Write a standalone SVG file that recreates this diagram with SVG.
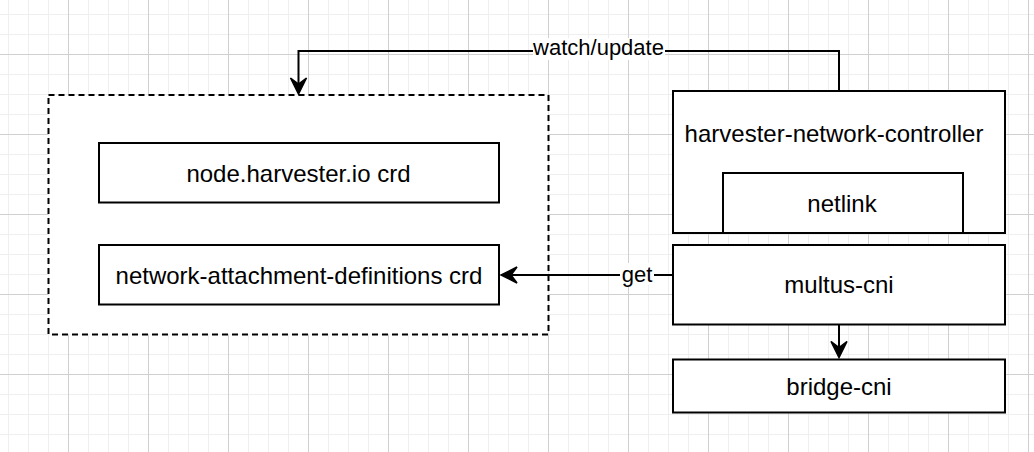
<svg xmlns="http://www.w3.org/2000/svg" width="1034" height="452" viewBox="0 0 1034 452">
  <defs>
    <pattern id="grid" patternUnits="userSpaceOnUse" x="68" y="54" width="80" height="80">
      <rect width="80" height="80" fill="#ffffff"/>
      <rect x="20" y="0" width="1" height="80" fill="#efefef"/>
      <rect x="40" y="0" width="1" height="80" fill="#efefef"/>
      <rect x="60" y="0" width="1" height="80" fill="#efefef"/>
      <rect x="0" y="20" width="80" height="1" fill="#efefef"/>
      <rect x="0" y="40" width="80" height="1" fill="#efefef"/>
      <rect x="0" y="60" width="80" height="1" fill="#efefef"/>
      <rect x="0" y="0" width="1" height="80" fill="#d0d0d0"/>
      <rect x="0" y="0" width="80" height="1" fill="#d0d0d0"/>
    </pattern>
    <marker id="arrow" markerUnits="userSpaceOnUse" viewBox="-1 -10 20 20" refX="7" refY="0" markerWidth="20" markerHeight="20" orient="auto">
      <path d="M 0 -8 L 16 0 L 0 8 L 6 0 Z" fill="#000000" stroke="#000000" stroke-width="1.5" stroke-linejoin="miter"/>
    </marker>
    <style>
      .box { fill: #ffffff; stroke: #000000; stroke-width: 2; }
      .dashed { fill: #ffffff; stroke: #000000; stroke-width: 2; stroke-dasharray: 6 4; }
      .label { font-family: "Liberation Sans", Arial, Helvetica, sans-serif; font-size: 24px; fill: #000000; text-anchor: middle; }
      .elabel { font-family: "Liberation Sans", Arial, Helvetica, sans-serif; font-size: 22px; fill: #000000; text-anchor: middle; }
      .edge { fill: none; stroke: #000000; stroke-width: 2; }
    </style>
  </defs>

  <rect width="1034" height="452" fill="url(#grid)"/>

  <g id="crd-group">
    <rect class="dashed" x="48.5" y="95" width="500" height="239.5"/>
  </g>

  <g id="node-harvester-crd">
    <rect class="box" x="99" y="143" width="400" height="59.5"/>
    <text class="label" x="298.5" y="181.5">node.harvester.io crd</text>
  </g>

  <g id="network-attachment-crd">
    <rect class="box" x="99" y="245" width="400" height="59.5"/>
    <text class="label" x="299" y="283.5">network-attachment-definitions crd</text>
  </g>

  <g id="harvester-network-controller">
    <rect class="box" x="673" y="91" width="332" height="142"/>
    <text class="label" x="834" y="142">harvester-network-controller</text>
  </g>

  <g id="netlink">
    <rect class="box" x="723" y="173" width="240" height="60"/>
    <text class="label" x="842" y="211.5">netlink</text>
  </g>

  <g id="multus-cni">
    <rect class="box" x="673" y="245" width="332" height="79.5"/>
    <text class="label" x="839" y="293">multus-cni</text>
  </g>

  <g id="bridge-cni">
    <rect class="box" x="673" y="359.5" width="332" height="53"/>
    <text class="label" x="839" y="394.5">bridge-cni</text>
  </g>

  <g id="connectors">
    <path class="edge" d="M 839 91 L 839 51 L 298.5 51 L 298.5 85" marker-end="url(#arrow)"/>
    <rect x="533" y="38" width="132" height="22" fill="#ffffff"/>
    <text class="elabel" x="598.5" y="55">watch/update</text>

    <path class="edge" d="M 673 275 L 510 275" marker-end="url(#arrow)"/>
    <rect x="620" y="263" width="34" height="22" fill="#ffffff"/>
    <text class="elabel" x="637" y="282">get</text>

    <path class="edge" d="M 839 325 L 839 348.5" marker-end="url(#arrow)"/>
  </g>
</svg>
